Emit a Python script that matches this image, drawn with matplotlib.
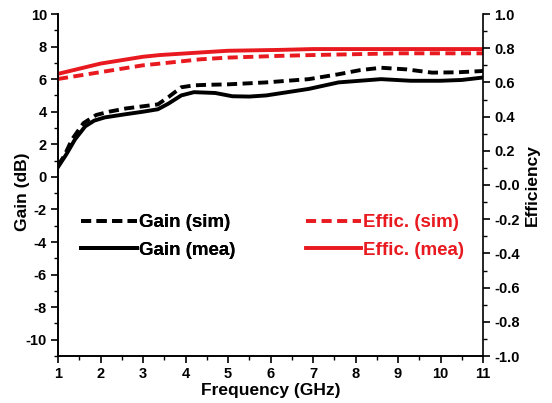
import matplotlib
matplotlib.use("Agg")
import matplotlib.pyplot as plt
import numpy as np
from matplotlib.ticker import MultipleLocator

plt.rcParams['font.family'] = ['Liberation Sans', 'DejaVu Sans']
plt.rcParams['font.weight'] = 'bold'
plt.rcParams['axes.unicode_minus'] = False

freq_sim = [1.0, 1.15, 1.33, 1.6, 1.9, 2.2, 2.6, 3.05, 3.35, 3.6, 3.9, 4.2, 4.5, 5.0, 5.9, 6.9, 7.6, 8.1, 8.6, 9.2, 9.8, 10.4, 11.0]
gain_sim = [0.7, 1.3, 2.3, 3.3, 3.8, 4.0, 4.2, 4.35, 4.45, 4.9, 5.5, 5.62, 5.65, 5.68, 5.8, 6.0, 6.3, 6.55, 6.7, 6.6, 6.4, 6.42, 6.5]
freq_mea = [1.0, 1.2, 1.4, 1.64, 1.85, 2.1, 2.6, 3.0, 3.35, 3.6, 3.9, 4.2, 4.7, 5.1, 5.5, 5.9, 6.9, 7.6, 8.6, 9.3, 10.0, 10.5, 11.0]
gain_mea = [0.6, 1.4, 2.3, 3.1, 3.45, 3.65, 3.85, 4.0, 4.15, 4.5, 5.0, 5.2, 5.15, 4.95, 4.93, 5.0, 5.4, 5.8, 6.0, 5.9, 5.9, 5.95, 6.1]
freq_eff = [1.0, 1.5, 2.0, 2.5, 3.0, 3.4, 4.35, 5.0, 6.2, 7.0, 8.0, 9.0, 10.0, 11.0]
eff_sim = [0.62, 0.64, 0.66, 0.68, 0.70, 0.71, 0.735, 0.745, 0.755, 0.76, 0.765, 0.77, 0.77, 0.77]
eff_mea = [0.65, 0.68, 0.71, 0.73, 0.75, 0.76, 0.775, 0.785, 0.79, 0.795, 0.795, 0.795, 0.795, 0.795]

fig = plt.figure(figsize=(5.52, 4.03), dpi=100)
ax = fig.add_axes([58/552, 1-356/403, (483-58)/552, (356-14)/403])
ax2 = ax.twinx()

red = '#e8191f'
lw = 2.8
dash = (2.6, 1.4)
l1, = ax.plot(freq_sim, gain_sim, color='black', lw=lw, ls=(0, dash), label='Gain (sim)')
l2, = ax.plot(freq_mea, gain_mea, color='black', lw=lw, label='Gain (mea)')
l3, = ax2.plot(freq_eff, eff_sim, color=red, lw=lw, ls=(0, dash), label='Effic. (sim)')
l4, = ax2.plot(freq_eff, eff_mea, color=red, lw=lw, label='Effic. (mea)')

ax.set_xlim(1, 11)
ax.set_ylim(-11, 10)
ax2.set_ylim(-1, 1)
ax.set_xticks(range(1, 12))
ax.xaxis.set_minor_locator(MultipleLocator(0.5))
ax.set_yticks(range(-10, 11, 2))
ax.yaxis.set_minor_locator(MultipleLocator(1))
eff_ticks = np.round(np.arange(-1.0, 1.01, 0.2), 1)
ax2.set_yticks(eff_ticks)
ax2.yaxis.set_minor_locator(MultipleLocator(0.1))
ax2.set_yticklabels([f"{v:.1f}" for v in eff_ticks])

for a in (ax, ax2):
    a.spines['top'].set_visible(False)
    a.tick_params(which='major', direction='out', length=5, width=1.2, labelsize=10.5, pad=3)
    a.tick_params(which='minor', direction='out', length=3, width=1.0)
    for s in a.spines.values():
        s.set_linewidth(1.2)
ax.spines['right'].set_visible(False)

ax.set_xlabel('Frequency (GHz)', fontsize=12.5, fontweight='bold', labelpad=1)
ax.set_ylabel('Gain (dB)', fontsize=12.5, fontweight='bold')
ax.yaxis.set_label_coords(-0.066, 0.48)
ax2.set_ylabel('Efficiency', fontsize=12.5, fontweight='bold', labelpad=4)

prop = {'weight': 'bold', 'size': 13.5}
leg1 = ax.legend(handles=[l1, l2], loc='upper left', bbox_to_anchor=(0.037, 0.437), frameon=False,
                 handlelength=3.0, handletextpad=0.1, labelspacing=0.55, prop=prop,
                 borderaxespad=0.0)
ax.add_artist(leg1)
leg2 = ax2.legend(handles=[l3, l4], loc='upper left', bbox_to_anchor=(0.567, 0.437), frameon=False,
                  handlelength=2.9, handletextpad=0.1, labelspacing=0.55, prop=prop,
                  labelcolor=red, borderaxespad=0.0)

fig.savefig('out.png', dpi=100)
